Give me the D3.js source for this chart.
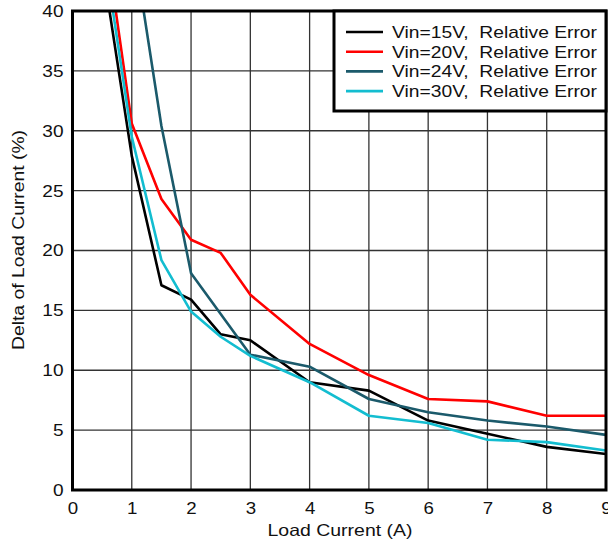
<!DOCTYPE html>
<html><head><meta charset="utf-8">
<script src="https://cdn.jsdelivr.net/npm/d3@7"></script>
<style>body{margin:0;background:#fff}svg{display:block}</style>
</head><body>
<svg id="c" width="608" height="542"></svg>
<script>
const xs15 = [0.5, 1, 1.5, 2, 2.5, 3, 4, 5, 6, 7, 8, 9];
const v15  = [44.0, 27.9, 17.1, 15.9, 13.0, 12.5, 9.0, 8.3, 5.8, 4.7, 3.6, 3.0];
const xs20 = [0.5, 1, 1.5, 2, 2.5, 3, 4, 5, 6, 7, 8, 9];
const v20  = [48.0, 30.6, 24.3, 20.9, 19.8, 16.3, 12.2, 9.6, 7.6, 7.4, 6.2, 6.2];
const xs24 = [1, 1.5, 2, 3, 4, 5, 6, 7, 8, 9];
const v24  = [46.4, 30.4, 18.1, 11.3, 10.3, 7.6, 6.5, 5.8, 5.3, 4.6];
const xs30 = [0.5, 1, 1.5, 2, 2.5, 3, 4, 5, 6, 7, 8, 9];
const v30  = [46.0, 29.5, 19.2, 14.9, 12.8, 11.2, 9.0, 6.2, 5.6, 4.2, 4.0, 3.3];
const seriesNames = ["Vin=15V,  Relative Error","Vin=20V,  Relative Error","Vin=24V,  Relative Error","Vin=30V,  Relative Error"];
const colors = ["#000000","#ff0000","#1b5a6b","#13bdd0"];
const xTicks = [0,1,2,3,4,5,6,7,8,9];
const yTicks = [0,5,10,15,20,25,30,35,40];
const xTitle = "Load Current (A)";
const yTitle = "Delta of Load Current (%)";

const series = [[xs15,v15],[xs20,v20],[xs24,v24],[xs30,v30]];
const svg = d3.select("#c");
const L=72.5, R=606, T=11, B=490;
const x = d3.scaleLinear().domain([0,9]).range([L,R]);
const y = d3.scaleLinear().domain([0,40]).range([B,T]);
const font = "'Liberation Sans', Arial, sans-serif";

function stretch(sel, k){
  sel.each(function(){
    const w = this.getComputedTextLength();
    d3.select(this).attr("textLength", w*k).attr("lengthAdjust","spacingAndGlyphs");
  });
}

svg.append("defs").append("clipPath").attr("id","clip")
  .append("rect").attr("x",L).attr("y",T).attr("width",R-L).attr("height",B-T);

// grid
const g = svg.append("g");
g.selectAll(".vx").data(xTicks.slice(1,-1)).join("line")
  .attr("x1",d=>x(d)).attr("x2",d=>x(d)).attr("y1",T).attr("y2",B)
  .attr("stroke","#333").attr("stroke-width",1.3);
g.selectAll(".hy").data(yTicks.slice(1,-1)).join("line")
  .attr("y1",d=>y(d)).attr("y2",d=>y(d)).attr("x1",L).attr("x2",R)
  .attr("stroke","#333").attr("stroke-width",1.3);

// lines
const line = d3.line().x(d=>x(d[0])).y(d=>y(d[1]));
const lg = svg.append("g").attr("clip-path","url(#clip)");
series.forEach((s,i)=>{
  const pts = s[0].map((xv,j)=>[xv,s[1][j]]);
  lg.append("path").attr("d",line(pts)).attr("fill","none")
    .attr("stroke",colors[i]).attr("stroke-width",2.6).attr("stroke-linejoin","round");
});

// frame
svg.append("rect").attr("x",L).attr("y",T).attr("width",R-L).attr("height",B-T)
  .attr("fill","none").attr("stroke","#000").attr("stroke-width",3);

// axes labels
const xa = d3.axisBottom(x).tickValues(xTicks).tickSize(0).tickPadding(12);
svg.append("g").attr("transform",`translate(0,${B})`).call(xa)
  .call(a=>a.select(".domain").remove())
  .selectAll("text").attr("font-size",17).attr("font-family",font).attr("fill","#111")
  .call(s=>stretch(s,1.1));
const ya = d3.axisLeft(y).tickValues(yTicks).tickSize(0).tickPadding(9);
svg.append("g").attr("transform",`translate(${L},0)`).call(ya)
  .call(a=>a.select(".domain").remove())
  .selectAll("text").attr("font-size",17).attr("font-family",font).attr("fill","#111")
  .call(s=>stretch(s,1.12));

svg.append("text").attr("x",340).attr("y",536).attr("text-anchor","middle")
  .attr("font-size",16.5).attr("font-family",font).attr("fill","#111").text(xTitle)
  .attr("textLength",145).attr("lengthAdjust","spacingAndGlyphs");
svg.append("text").attr("transform",`translate(24,240) rotate(-90)`).attr("text-anchor","middle")
  .attr("font-size",16).attr("font-family",font).attr("fill","#111").text(yTitle)
  .attr("textLength",220).attr("lengthAdjust","spacingAndGlyphs");

// legend
const lgd = svg.append("g");
lgd.append("rect").attr("x",334).attr("y",T).attr("width",R-334).attr("height",100)
  .attr("fill","#fff").attr("stroke","#000").attr("stroke-width",3);
seriesNames.forEach((n,i)=>{
  const yy = 32 + i*19.7;
  lgd.append("line").attr("x1",346).attr("x2",383).attr("y1",yy).attr("y2",yy)
    .attr("stroke",colors[i]).attr("stroke-width",2.6);
  lgd.append("text").attr("x",392).attr("y",yy+6).attr("font-size",17)
    .attr("font-family",font).attr("fill","#111").style("white-space","pre").text(n)
    .attr("textLength",205).attr("lengthAdjust","spacingAndGlyphs");
});
</script>
</body></html>
